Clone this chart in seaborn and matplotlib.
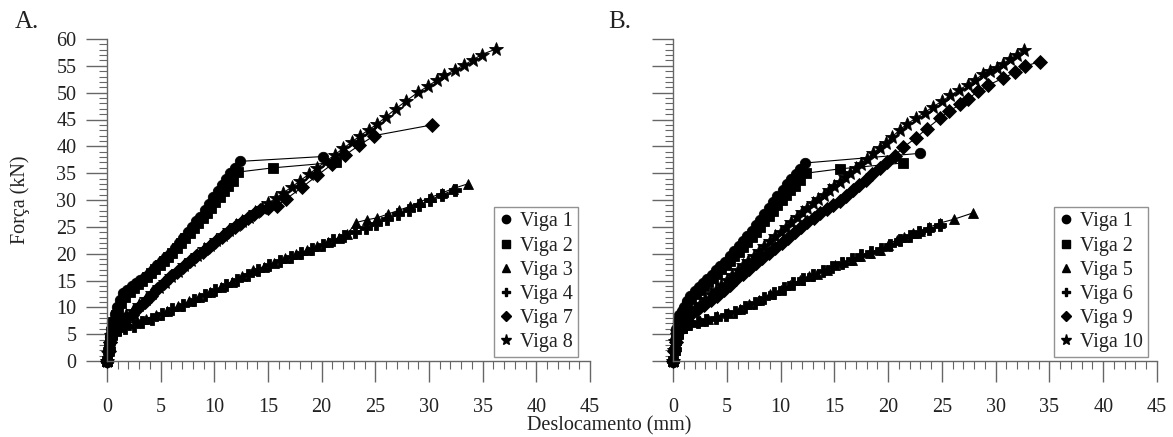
import matplotlib
matplotlib.use('Agg')
import matplotlib.pyplot as plt
from matplotlib.lines import Line2D
from matplotlib.ticker import MultipleLocator
import seaborn as sns

# ---- Painel A ----
a_v1_x = [0, 0.1, 0.2, 0.3, 0.4, 0.5, 0.7, 0.9, 1.2, 1.5, 1.9, 2.3, 2.7, 3.1, 3.5, 3.9, 4.3, 4.7, 5.1, 5.5,
          5.9, 6.3, 6.7, 7.1, 7.5, 7.9, 8.3, 8.7, 9.1, 9.5, 9.9, 10.3, 10.7, 11.1, 11.5, 11.9, 12.4, 20.1]
a_v1_y = [0, 1.5, 3, 4.5, 6, 7.2, 8.8, 10, 11.4, 12.6, 13.3, 14, 14.6, 15.1, 15.6, 16.3, 17, 17.8, 18.6, 19.3,
          20, 21, 22, 23, 24, 25, 26, 26.9, 28.1, 29.3, 30.5, 31.6, 32.8, 34, 35, 36, 37.2, 38.1]

a_v2_x = [0, 0.15, 0.3, 0.45, 0.6, 0.8, 1.0, 1.3, 1.7, 2.1, 2.5, 2.9, 3.3, 3.7, 4.1, 4.5, 4.9, 5.3, 5.7, 6.1,
          6.5, 6.9, 7.3, 7.7, 8.1, 8.5, 8.9, 9.3, 9.7, 10.1, 10.5, 10.9, 11.3, 11.7, 12.2, 15.5, 21.3]
a_v2_y = [0, 2, 4, 5.8, 7.2, 8.5, 9.6, 10.8, 12, 12.8, 13.6, 14.3, 15, 15.7, 16.4, 17.1, 17.9, 18.6, 19.4, 20.2,
          21.1, 22, 22.9, 23.8, 24.8, 25.7, 26.6, 27.6, 28.6, 29.6, 30.6, 31.6, 32.6, 33.6, 35.2, 36, 37]

a_v3_x = [0, 0.15, 0.3, 0.5, 0.8, 1.3, 2.0, 2.8, 3.6, 4.6, 5.6, 6.6, 7.6, 8.6, 9.6, 10.6, 11.6, 12.6, 13.6,
          14.6, 15.6, 16.6, 17.6, 18.6, 19.6, 20.6, 21.6, 22.4, 23.2, 24.2, 25.2, 26.2, 27.2, 28.2, 29.2, 30.2,
          31.2, 32.2, 33.6]
a_v3_y = [0, 1.8, 3.5, 5, 5.9, 6.5, 7, 7.5, 7.9, 8.5, 9.3, 10.2, 11.1, 12, 12.9, 13.8, 14.8, 15.9, 16.9,
          17.6, 18.3, 19.1, 19.9, 20.6, 21.4, 22.2, 23, 23.7, 25.8, 26.3, 26.7, 27.4, 28.1, 28.8, 29.7, 30.5,
          31.3, 32.1, 33]

a_v4_x = [0, 0.2, 0.4, 0.7, 1.1, 1.7, 2.5, 3.3, 4.2, 5.1, 6.1, 7.1, 8.1, 9.1, 10.1, 11.1, 12.1, 13.1, 14.1,
          15.1, 16.1, 17.1, 18.1, 19.1, 20.1, 21.1, 22.1, 23.1, 24.1, 25.1, 26.1, 27.1, 28.1, 29.1, 30.1, 31.2,
          32.4]
a_v4_y = [0, 2.2, 4.2, 5.2, 5.8, 6.2, 6.6, 7.2, 7.9, 8.7, 9.6, 10.5, 11.4, 12.3, 13.2, 14.1, 15.1, 16.1, 17,
          17.9, 18.7, 19.4, 20.1, 20.9, 21.7, 22.5, 23.2, 24, 24.8, 25.6, 26.4, 27.3, 28.2, 29.1, 30, 31, 31.9]

a_v7_x = [0, 0.15, 0.3, 0.5, 0.8, 1.2, 1.7, 2.3, 2.9, 3.5, 4.1, 4.7, 5.3, 5.9, 6.5, 7.1, 7.7, 8.3, 8.9, 9.5,
          10.1, 10.7, 11.3, 11.9, 12.5, 13.1, 13.7, 14.3, 15.0, 15.8, 16.7, 18.2, 19.6, 21.0, 22.2, 23.5, 24.9,
          30.3]
a_v7_y = [0, 1.8, 3.6, 5.2, 6.3, 7.1, 7.8, 8.6, 9.8, 11, 12.2, 13.4, 14.5, 15.6, 16.6, 17.6, 18.6, 19.5, 20.4,
          21.3, 22.2, 23.1, 24, 24.9, 25.8, 26.6, 27.4, 28.1, 28.6, 28.8, 30.2, 32.4, 34.6, 36.7, 38.4, 40.2, 42,
          44]

a_v8_x = [0, 0.1, 0.25, 0.4, 0.6, 0.9, 1.3, 1.8, 2.4, 3.0, 3.6, 4.2, 4.8, 5.4, 6.0, 6.6, 7.2, 7.8, 8.4, 9.0,
          9.6, 10.2, 10.8, 11.4, 12.0, 12.6, 13.2, 13.8, 14.4, 15.0, 15.7, 16.4, 17.2, 18.0, 18.8, 19.6, 20.4,
          21.2, 22.0, 22.8, 23.6, 24.4, 25.2, 26.0, 26.9, 27.9, 29.0, 29.9, 30.7, 31.4, 32.4, 33.3, 34.1, 34.9,
          36.2]
a_v8_y = [0, 1.5, 3.2, 4.8, 6, 7, 7.8, 8.5, 9.3, 10.4, 11.5, 12.6, 13.7, 14.8, 15.8, 16.8, 17.8, 18.8, 19.8,
          20.8, 21.7, 22.6, 23.5, 24.4, 25.3, 26.1, 26.9, 27.7, 28.5, 29.4, 30.3, 31.3, 32.4, 33.6, 34.8, 36,
          37.2, 38.4, 39.6, 40.8, 42, 43.1, 44.2, 45.5, 47, 48.5, 50.1, 51.2, 52.3, 53.2, 54.2, 55.2, 56.1, 57.1,
          58.1]

# ---- Painel B ----
b_v1_x = [0, 0.1, 0.2, 0.3, 0.45, 0.6, 0.8, 1.0, 1.3, 1.6, 2.0, 2.4, 2.8, 3.2, 3.6, 4.0, 4.4, 4.8, 5.3, 5.7,
          6.1, 6.5, 6.9, 7.3, 7.7, 8.1, 8.5, 8.9, 9.3, 9.7, 10.2, 10.6, 11.0, 11.4, 11.8, 12.3, 23.0]
b_v1_y = [0, 2, 4, 6, 7.5, 8.6, 9.4, 10.1, 11.2, 12.1, 13.1, 13.8, 14.5, 15.3, 16.1, 16.9, 17.7, 18.5, 19.5,
          20.5, 21.5, 22.4, 23.3, 24.3, 25.3, 26.3, 27.4, 28.5, 29.6, 30.7, 31.9, 32.9, 33.9, 34.8, 35.7, 36.9,
          38.7]

b_v2_x = [0, 0.15, 0.3, 0.45, 0.6, 0.8, 1.0, 1.3, 1.7, 2.1, 2.5, 2.9, 3.3, 3.7, 4.1, 4.5, 4.9, 5.3, 5.7, 6.1,
          6.5, 6.9, 7.3, 7.7, 8.1, 8.5, 8.9, 9.3, 9.7, 10.1, 10.5, 10.9, 11.3, 11.8, 12.4, 15.5, 21.4]
b_v2_y = [0, 2, 4, 5.8, 7.2, 8.2, 9.2, 10.3, 11.5, 12.4, 13.2, 14, 14.7, 15.5, 16.3, 17.1, 17.9, 18.7, 19.5,
          20.4, 21.3, 22.2, 23.1, 24, 25, 26, 27, 28, 29, 30, 30.9, 31.8, 32.7, 33.8, 35, 35.8, 36.9]

b_v5_x = [0, 0.15, 0.3, 0.5, 0.8, 1.2, 1.8, 2.5, 3.3, 4.1, 5.1, 6.2, 7.1, 8.0, 9.0, 10.0, 10.9, 11.8, 12.6,
          13.4, 14.3, 15.1, 15.8, 16.6, 17.4, 18.3, 19.2, 20.0, 20.8, 21.5, 22.3, 23.0, 23.8, 24.8, 26.1, 27.9]
b_v5_y = [0, 2, 3.9, 5.3, 6.2, 6.8, 7.2, 7.5, 7.9, 8.3, 8.9, 9.7, 10.6, 11.4, 12.4, 13.3, 14.2, 15.1, 15.8,
          16.3, 17, 17.8, 18.5, 18.9, 19.5, 20.1, 20.7, 21.7, 22.6, 23.1, 23.8, 24.3, 24.9, 25.7, 26.4, 27.6]

b_v6_x = [0, 0.2, 0.4, 0.7, 1.1, 1.6, 2.3, 3.1, 4.0, 4.9, 5.8, 6.7, 7.6, 8.5, 9.4, 10.3, 11.2, 12.1, 13.0,
          13.9, 14.8, 15.7, 16.6, 17.5, 18.4, 19.3, 20.2, 21.1, 22.0, 22.9, 23.8, 24.8]
b_v6_y = [0, 2.3, 4.4, 5.6, 6.4, 6.9, 7.3, 7.7, 8.1, 8.6, 9.2, 10, 10.9, 11.8, 12.7, 13.6, 14.5, 15.3, 16.1,
          16.8, 17.6, 18.3, 19, 19.7, 20.3, 20.9, 21.7, 22.5, 23.3, 24, 24.6, 25.4]

b_v9_x = [0, 0.1, 0.25, 0.4, 0.6, 0.9, 1.3, 1.8, 2.3, 2.9, 3.5, 4.1, 4.7, 5.3, 5.9, 6.5, 7.1, 7.7, 8.3, 8.9,
          9.5, 10.1, 10.7, 11.3, 11.9, 12.5, 13.1, 13.7, 14.3, 14.9, 15.5, 16.1, 16.7, 17.3, 17.9, 18.5, 19.2,
          19.9, 20.6, 21.4, 22.6, 23.6, 24.8, 25.7, 26.7, 27.4, 28.4, 29.3, 30.7, 31.8, 32.7, 34.1]
b_v9_y = [0, 1.8, 3.6, 5.2, 6.5, 7.5, 8.2, 8.9, 9.6, 10.5, 11.3, 12.2, 13.2, 14.2, 15.2, 16.2, 17.2, 18.2,
          19.2, 20.1, 21, 22, 23, 24, 25, 25.9, 26.7, 27.5, 28.3, 29.1, 29.9, 30.8, 31.8, 32.8, 33.8, 34.8, 35.9,
          37, 38.2, 39.8, 41.6, 43.3, 45.2, 46.6, 47.8, 48.8, 50.3, 51.4, 52.7, 53.8, 54.9, 55.8]

b_v10_x = [0, 0.1, 0.2, 0.35, 0.55, 0.8, 1.1, 1.5, 2.0, 2.5, 3.0, 3.5, 4.0, 4.5, 5.0, 5.5, 6.0, 6.5, 7.0, 7.5,
           8.0, 8.5, 9.0, 9.5, 10.0, 10.5, 11.0, 11.5, 12.0, 12.5, 13.0, 13.5, 14.0, 14.5, 15.0, 15.5, 16.0,
           16.5, 17.0, 17.5, 18.0, 18.6, 19.2, 19.8, 20.4, 21.1, 21.8, 22.6, 23.4, 24.2, 25.0, 25.8, 26.6, 27.4,
           28.1, 28.8, 29.5, 30.1, 30.7, 31.3, 32.0, 32.6]
b_v10_y = [0, 2, 3.8, 5.4, 6.7, 7.6, 8.3, 9, 9.8, 10.6, 11.5, 12.4, 13.3, 14.2, 15.1, 16, 16.9, 17.8, 18.7,
           19.6, 20.5, 21.4, 22.3, 23.2, 24.1, 25, 25.9, 26.8, 27.7, 28.6, 29.4, 30.2, 31, 31.8, 32.6, 33.4, 34.2,
           35.1, 35.9, 36.8, 37.7, 38.7, 39.7, 40.7, 41.8, 43.1, 44.2, 45.3, 46.3, 47.4, 48.4, 49.5, 50.5, 51.5,
           52.4, 53.4, 54.1, 54.6, 55.4, 56.2, 57.1, 58]

labels_a = ['Viga 1', 'Viga 2', 'Viga 3', 'Viga 4', 'Viga 7', 'Viga 8']
labels_b = ['Viga 1', 'Viga 2', 'Viga 5', 'Viga 6', 'Viga 9', 'Viga 10']
markers = ['o', 's', '^', 'P', 'D', '*']
msizes = [7.5, 7.5, 7.5, 8, 7, 10]

series_a = [(a_v1_x, a_v1_y), (a_v2_x, a_v2_y), (a_v3_x, a_v3_y),
            (a_v4_x, a_v4_y), (a_v7_x, a_v7_y), (a_v8_x, a_v8_y)]
series_b = [(b_v1_x, b_v1_y), (b_v2_x, b_v2_y), (b_v5_x, b_v5_y),
            (b_v6_x, b_v6_y), (b_v9_x, b_v9_y), (b_v10_x, b_v10_y)]

sns.set_style('ticks')
plt.rcParams['font.family'] = ['Liberation Serif', 'DejaVu Serif']

W, H = 1173, 437
fig = plt.figure(figsize=(W / 100, H / 100), dpi=100)
ax_a = fig.add_axes([107 / W, 1 - 361 / H, 483 / W, 322 / H])
ax_b = fig.add_axes([673 / W, 1 - 361 / H, 484 / W, 322 / H])

axis_col = '#666666'
txt_col = '#222222'
fs = 14.5

for ax, series, labels, anchor in [(ax_a, series_a, labels_a, 0.975), (ax_b, series_b, labels_b, 0.981)]:
    for (xs, ys), m, ms in zip(series, markers, msizes):
        sns.lineplot(x=xs, y=ys, ax=ax, color='black', marker=m, markersize=ms,
                     markeredgecolor='black', markeredgewidth=0.6, linewidth=0.8,
                     sort=False, estimator=None, legend=False, clip_on=False)
    ax.set_xlim(0, 45)
    ax.set_ylim(0, 60)
    ax.xaxis.set_major_locator(MultipleLocator(5))
    ax.xaxis.set_minor_locator(MultipleLocator(1))
    ax.yaxis.set_major_locator(MultipleLocator(5))
    ax.yaxis.set_minor_locator(MultipleLocator(1))
    ax.tick_params(which='major', direction='out', length=15, width=1, color=axis_col,
                   labelsize=fs, labelcolor=txt_col)
    ax.tick_params(which='minor', direction='out', length=6, width=0.8, color=axis_col)
    ax.tick_params(axis='x', which='major', pad=12)
    ax.tick_params(axis='y', which='major', pad=7)
    sns.despine(ax=ax)
    for s in ['left', 'bottom']:
        ax.spines[s].set_color(axis_col)
        ax.spines[s].set_linewidth(1)
    ax.set_xlabel('')
    ax.set_ylabel('')
    if ax is ax_b:
        ax.set_yticklabels([])

    handles = [Line2D([], [], marker=m, color='black', linestyle='none', markersize=ms * 0.8)
               for m, ms in zip(markers, msizes)]
    leg = ax.legend(handles, labels, loc='lower right', bbox_to_anchor=(anchor, 0.012),
                    fontsize=fs, frameon=True, fancybox=False, edgecolor='#777777',
                    handlelength=0.7, handletextpad=0.35, labelspacing=0.25, borderpad=0.25,
                    borderaxespad=0)
    leg.get_frame().set_linewidth(1)
    for t in leg.get_texts():
        t.set_color(txt_col)

fig.text(15 / W, 1 - 22 / H, 'A.', fontsize=18, va='center', ha='left', color=txt_col)
fig.text(608 / W, 1 - 22 / H, 'B.', fontsize=18, va='center', ha='left', color=txt_col)
fig.text(20 / W, 1 - 200 / H, 'Força (kN)', rotation=90, fontsize=fs, va='center', ha='center',
         color=txt_col)
fig.text(609 / W, 1 - 426 / H, 'Deslocamento (mm)', fontsize=fs, va='center', ha='center',
         color=txt_col)

fig.savefig('out.png', dpi=100)
